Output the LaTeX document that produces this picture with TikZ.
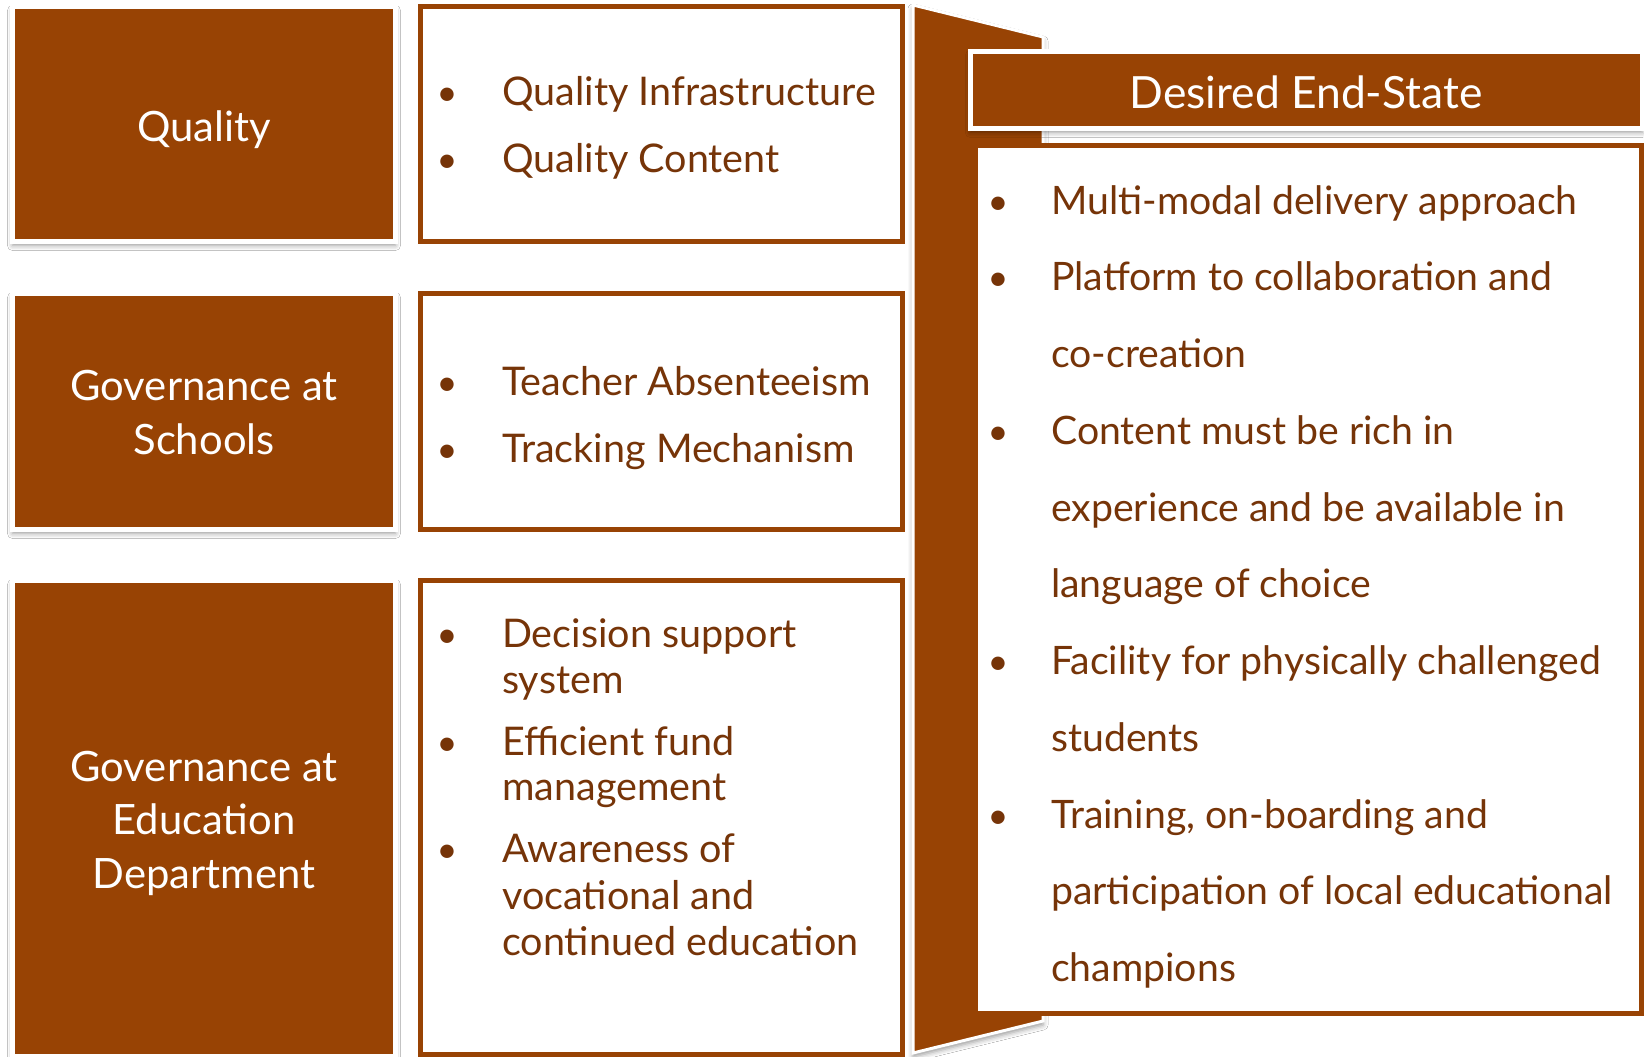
\documentclass[tikz,border=0pt]{standalone}
\usepackage{fontspec}
\setmainfont{Lato}
\usetikzlibrary{shadows.blur}
\definecolor{boxbrown}{RGB}{152,67,4}
\definecolor{txtbrown}{RGB}{118,52,8}
\begin{document}
\begin{tikzpicture}[x=1pt,y=-1pt,
  shadowed/.style={blur shadow={shadow xshift=0pt, shadow yshift=-4pt, shadow blur radius=5pt, shadow opacity=40}},
  leftbox/.style={rectangle, fill=boxbrown, draw=white, line width=5pt, inner sep=0pt, shadowed},
  midbox/.style={rectangle, fill=white, draw=boxbrown, line width=5pt, inner sep=0pt},
  lefttxt/.style={anchor=base, inner sep=0pt, text=white, font=\fontsize{41.8}{48}\selectfont},
  midtxt/.style={anchor=base west, inner sep=0pt, text=txtbrown, font=\fontsize{39.5}{46}\selectfont},
  midbul/.style={anchor=base, inner sep=0pt, text=txtbrown, font=\fontsize{36}{42}\selectfont},
  righttxt/.style={anchor=base west, inner sep=0pt, text=txtbrown, font=\fontsize{39.2}{46}\selectfont},
  rightbul/.style={anchor=base, inner sep=0pt, text=txtbrown, font=\fontsize{36}{42}\selectfont},
  headtxt/.style={anchor=base, inner sep=0pt, text=white, font=\fontsize{44.4}{52}\selectfont},
]
\useasboundingbox (0,0) rectangle (1644,1057);
\fill[white] (0,0) rectangle (1644,1057);

% left boxes
\node[leftbox, minimum width=383pt, minimum height=235pt] (lq) at (204,124) {};
\node[leftbox, minimum width=383pt, minimum height=236pt] (ls) at (204,411.5) {};
\node[leftbox, minimum width=383pt, minimum height=476pt] (le) at (204,818.5) {};

\node[lefttxt] (tq) at (204,141) {Quality};
\node[lefttxt] (ts1) at (204,400.5) {Governance at};
\node[lefttxt] (ts2) at (204,454) {Schools};
\node[lefttxt] (te1) at (204,781) {Governance at};
\node[lefttxt] (te2) at (204,834.5) {Education};
\node[lefttxt] (te3) at (204,888) {Department};

% middle boxes
\node[midbox, minimum width=482pt, minimum height=235pt] (mq) at (661.5,124) {};
\node[midbox, minimum width=482pt, minimum height=236pt] (ms) at (661.5,411.5) {};
\node[midbox, minimum width=482pt, minimum height=474pt] (me) at (661.5,817.5) {};

\node[midbul] (b1) at (447,106) {•};
\node[midtxt] (m1) at (502,106) {Quality Infrastructure};
\node[midbul] (b2) at (447,172) {•};
\node[midtxt] (m2) at (502,172) {Quality Content};

\node[midbul] (b3) at (447,395) {•};
\node[midtxt] (m3) at (502,395) {Teacher Absenteeism};
\node[midbul] (b4) at (447,462) {•};
\node[midtxt] (m4) at (502,462) {Tracking Mechanism};

\node[midbul] (b5) at (447,647) {•};
\node[midtxt] (m5) at (502,647) {Decision support};
\node[midtxt] (m6) at (502,693) {system};
\node[midbul] (b6) at (447,755) {•};
\node[midtxt] (m7) at (502,755) {Efficient fund};
\node[midtxt] (m8) at (502,800) {management};
\node[midbul] (b7) at (447,862) {•};
\node[midtxt] (m9) at (502,862) {Awareness of};
\node[midtxt] (m10) at (502,909) {vocational and};
\node[midtxt] (m11) at (502,955) {continued education};

% chevron
\path[fill=boxbrown, draw=white, line width=3pt, line join=miter, shadowed]
  (913,5) -- (1043,37) -- (1043,1021) -- (913,1053) -- cycle;

% big white box
\node[midbox, minimum width=666pt, minimum height=868pt] (rb) at (1308.5,579.5) {};

% header
\node[leftbox, minimum width=672pt, minimum height=77pt] (hd) at (1306.25,90) {};
\node[headtxt] (ht) at (1306,108) {Desired End-State};

% right text
\node[rightbul] (r1b) at (998,214) {•};
\node[righttxt] (r1) at (1051,214) {Multi-modal delivery approach};
\node[rightbul] (r2b) at (998,290.8) {•};
\node[righttxt] (r2) at (1051,290.8) {Platform to collaboration and};
\node[righttxt] (r3) at (1051,367.5) {co-creation};
\node[rightbul] (r4b) at (998,444.3) {•};
\node[righttxt] (r4) at (1051,444.3) {Content must be rich in};
\node[righttxt] (r5) at (1051,521) {experience and be available in};
\node[righttxt] (r6) at (1051,597.8) {language of choice};
\node[rightbul] (r7b) at (998,674.5) {•};
\node[righttxt] (r7) at (1051,674.5) {Facility for physically challenged};
\node[righttxt] (r8) at (1051,751.3) {students};
\node[rightbul] (r9b) at (998,828) {•};
\node[righttxt] (r9) at (1051,828) {Training, on-boarding and};
\node[righttxt] (r10) at (1051,904.8) {participation of local educational};
\node[righttxt] (r11) at (1051,981.5) {champions};
\end{tikzpicture}
\end{document}
